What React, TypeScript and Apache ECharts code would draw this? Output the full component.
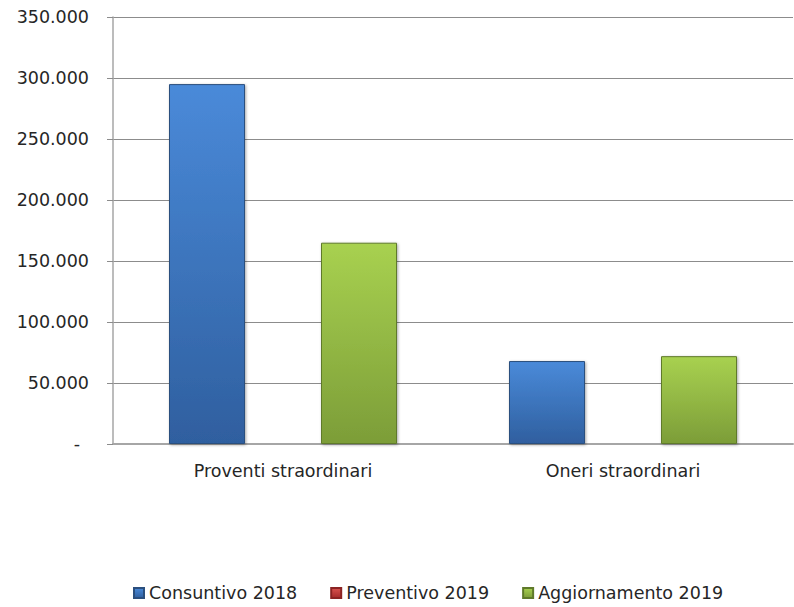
import React, { useEffect, useRef } from "react";
import * as echarts from "echarts";

const categories = ["Proventi straordinari", "Oneri straordinari"];
const seriesNames = ["Consuntivo 2018", "Preventivo 2019", "Aggiornamento 2019"];
const consuntivo2018 = [295000, 68000];
const preventivo2019 = [0, 0];
const aggiornamento2019 = [165000, 72000];
const yTicks = [0, 50000, 100000, 150000, 200000, 250000, 300000, 350000];

const FONT = "DejaVu Sans";
const FS = 17.5;

function grad(top: string, bottom: string) {
  return new echarts.graphic.LinearGradient(0, 0, 0, 1, [
    { offset: 0, color: top },
    { offset: 1, color: bottom },
  ]);
}

export default function App() {
  const ref = useRef<HTMLDivElement>(null);
  useEffect(() => {
    if (!ref.current) return;
    const chart = echarts.init(ref.current, undefined, { renderer: "svg" });
    const fmt = (v: number) =>
      v === 0 ? "{z|-}" : v.toLocaleString("it-IT").replace(/,/g, ".");
    const mk = (name: string, data: number[], top: string, bottom: string, border: string, legendColor: string) => ({
      name,
      type: "bar",
      data,
      barWidth: 76,
      barGap: "0%",
      color: legendColor,
      itemStyle: {
        color: grad(top, bottom),
        borderColor: border,
        borderWidth: 1,
        shadowBlur: 3,
        shadowColor: "rgba(0,0,0,0.35)",
        shadowOffsetX: 1,
        shadowOffsetY: 1,
      },
    });
    chart.setOption({
      animation: false,
      backgroundColor: "#ffffff",
      grid: { left: 113, right: 1, top: 17, bottom: 163, containLabel: false },
      legend: {
        bottom: 5,
        left: 133,
        padding: 0,
        itemWidth: 10,
        itemHeight: 10,
        itemGap: 33,
        icon: "rect",
        textStyle: { fontFamily: FONT, fontSize: FS, color: "#262626" },
        data: seriesNames,
      },
      xAxis: {
        type: "category",
        data: categories,
        axisLine: { lineStyle: { color: "#a6a6a6", width: 2 } },
        axisTick: { show: false },
        axisLabel: { fontFamily: FONT, fontSize: FS, color: "#262626", margin: 18 },
      },
      yAxis: {
        type: "value",
        min: yTicks[0],
        max: yTicks[yTicks.length - 1],
        interval: yTicks[1] - yTicks[0],
        axisLine: { show: true, lineStyle: { color: "#a6a6a6", width: 1.5 } },
        axisTick: { show: true, length: 6, lineStyle: { color: "#8c8c8c" } },
        splitLine: { show: true, lineStyle: { color: "#8c8c8c", width: 1 } },
        axisLabel: {
          fontFamily: FONT,
          fontSize: FS,
          color: "#262626",
          margin: 24,
          formatter: fmt,
          rich: { z: { fontFamily: FONT, fontSize: FS, color: "#262626", padding: [0, 9, 0, 0] } },
        },
      },
      series: [
        mk(seriesNames[0], consuntivo2018, "#4a8ad9", "#2f5f9f", "#2b4f7e", "#3d7cc9"),
        mk(seriesNames[1], preventivo2019, "#d9534f", "#a52a2a", "#8b2323", "#c0393b"),
        mk(seriesNames[2], aggiornamento2019, "#a8d150", "#7c9d38", "#5f7a2a", "#9bc44a"),
      ],
    });
    return () => chart.dispose();
  }, []);
  return <div ref={ref} style={{ width: 794, height: 607, position: "absolute", left: 0, top: 0 }} />;
}
